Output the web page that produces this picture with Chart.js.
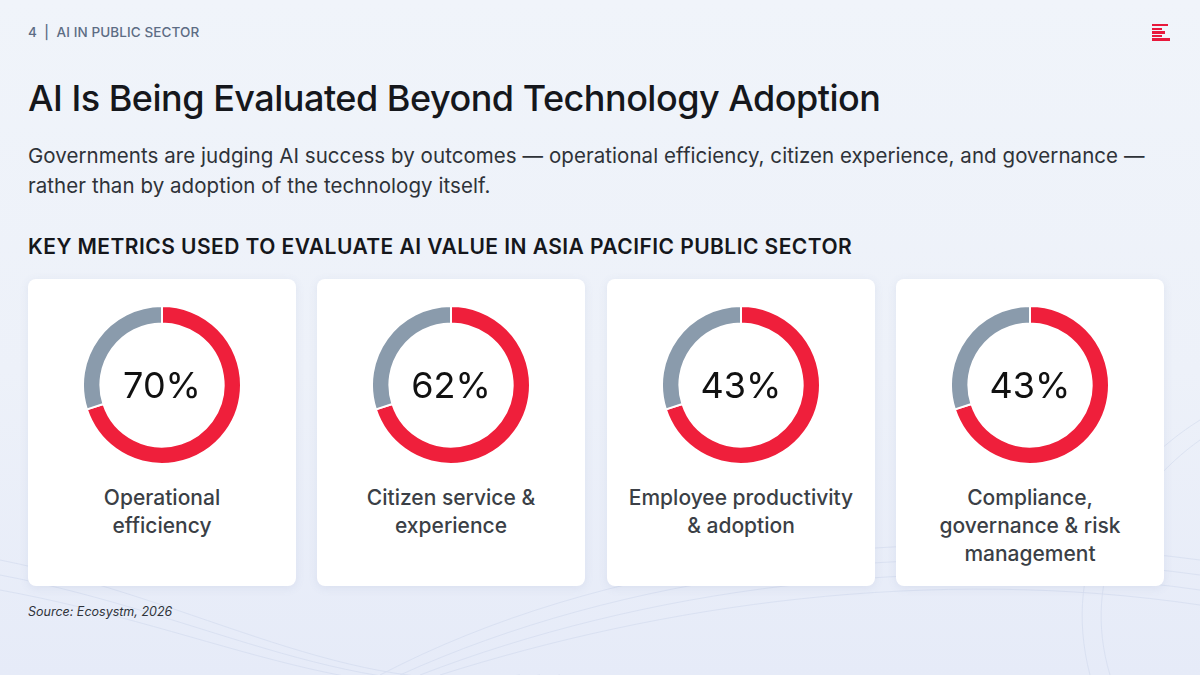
<!DOCTYPE html>
<html>
<head>
<meta charset="utf-8">
<script src="https://cdn.jsdelivr.net/npm/chart.js@4.4.1/dist/chart.umd.min.js"></script>
<style>
  html, body { margin: 0; padding: 0; }
  body {
    width: 1200px; height: 675px; overflow: hidden; position: relative;
    font-family: Inter, "Noto Sans", sans-serif;
    background: linear-gradient(180deg, #f0f4fa 0%, #edf1f9 55%, #e6ebf8 100%);
  }
  .waves { position: absolute; left: 0; top: 0; width: 1200px; height: 675px; }
  .kicker { position: absolute; left: 28px; top: 24px; font-size: 13.5px; font-weight: 500; color: #5c6c84; letter-spacing: 0.1px; }
  .logo { position: absolute; left: 1152px; top: 24px; width: 18px; }
  .logo div { height: 2.4px; background: #e8183b; margin-bottom: 1.2px; }
  h1 { position: absolute; left: 28px; top: 76px; margin: 0; font-size: 36px; font-weight: 500; letter-spacing: -0.5px; color: #15171c; }
  .sub { position: absolute; left: 28px; top: 141px; width: 1135px; font-size: 20.5px; line-height: 30px; color: #2e3238; font-weight: 400; letter-spacing: 0.06px; }
  .section { position: absolute; left: 28px; top: 234px; font-size: 21px; font-weight: 600; color: #15171c; letter-spacing: 0.45px; }
  .card {
    position: absolute; top: 279px; width: 268px; height: 307px; background: #fff;
    border-radius: 8px; box-shadow: 0 2px 10px rgba(90, 110, 160, 0.10);
  }
  .card canvas { position: absolute; left: 54px; top: 26px; }
  .label { position: absolute; left: 0; top: 205px; width: 268px; text-align: center; font-size: 21px; line-height: 28px; font-weight: 500; color: #3b3f46; letter-spacing: 0; }
  .source { position: absolute; left: 28px; top: 604px; font-size: 12.5px; font-style: italic; color: #2f333a; }
</style>
</head>
<body>
<svg class="waves" viewBox="0 0 1200 675" fill="none" stroke="#c9d3ea" stroke-width="0.8" opacity="0.55">
  <path d="M0 560 C 200 600, 350 700, 520 675"/>
  <path d="M0 575 C 210 615, 360 710, 540 675"/>
  <path d="M0 590 C 220 630, 370 720, 560 675"/>
  <path d="M380 675 C 600 560, 900 520, 1200 560"/>
  <path d="M400 675 C 620 575, 910 535, 1200 575"/>
  <path d="M420 675 C 640 590, 920 550, 1200 590"/>
  <path d="M440 675 C 660 605, 930 565, 1200 605"/>
  <path d="M1200 420 C 1120 470, 1060 560, 1090 675"/>
  <path d="M1200 440 C 1130 490, 1080 575, 1110 675"/>
</svg>

<div class="kicker">4&nbsp;&nbsp;|&nbsp;&nbsp;AI IN PUBLIC SECTOR</div>
<div class="logo"><div style="width:16px"></div><div style="width:10px"></div><div style="width:13px"></div><div style="width:10px"></div><div style="width:18px"></div></div>
<h1>AI Is Being Evaluated Beyond Technology Adoption</h1>
<div class="sub">Governments are judging AI success by outcomes — operational efficiency, citizen experience, and governance — rather than by adoption of the technology itself.</div>
<div class="section">KEY METRICS USED TO EVALUATE AI VALUE IN ASIA PACIFIC PUBLIC SECTOR</div>

<div id="cards"></div>

<div class="source">Source: Ecosystm, 2026</div>

<script>
// metric names (line breaks as in the slide)
const metrics = [
  ['Operational', 'efficiency'],
  ['Citizen service &', 'experience'],
  ['Employee productivity', '& adoption'],
  ['Compliance,', 'governance & risk', 'management']
];
// percentages printed in the ring centres
const shares = [70, 62, 43, 43];
// red part of each ring as drawn in the slide (all rings show the same split)
const ringRed = [70, 70, 70, 70];
const cardLeft = [28, 317, 607, 896];

const RED = '#ef1f3b';
const GREY = '#8a9bac';

const centerText = {
  id: 'centerText',
  afterDraw(chart, args, opts) {
    const { ctx, chartArea } = chart;
    const x = (chartArea.left + chartArea.right) / 2;
    const y = (chartArea.top + chartArea.bottom) / 2;
    ctx.save();
    ctx.font = '400 36px Inter, "Noto Sans", sans-serif';
    ctx.fillStyle = '#111';
    ctx.textAlign = 'center';
    ctx.textBaseline = 'middle';
    ctx.fillText(opts.text, x, y + 2);
    ctx.restore();
  }
};

const holder = document.getElementById('cards');
metrics.forEach(function (lines, i) {
  const card = document.createElement('div');
  card.className = 'card';
  card.style.left = cardLeft[i] + 'px';
  const cv = document.createElement('canvas');
  cv.width = 160; cv.height = 160;
  cv.style.width = '160px'; cv.style.height = '160px';
  card.appendChild(cv);
  const lab = document.createElement('div');
  lab.className = 'label';
  lab.innerHTML = lines.join('<br>');
  card.appendChild(lab);
  holder.appendChild(card);

  new Chart(cv.getContext('2d'), {
    type: 'doughnut',
    data: {
      labels: [lines.join(' '), 'Other'],
      datasets: [{
        data: [ringRed[i], 100 - ringRed[i]],
        backgroundColor: [RED, GREY],
        borderColor: '#ffffff',
        borderWidth: 2
      }]
    },
    options: {
      responsive: false,
      animation: false,
      cutout: '78%',
      layout: { padding: 0 },
      plugins: {
        legend: { display: false },
        tooltip: { enabled: false },
        centerText: { text: shares[i] + '%' }
      }
    },
    plugins: [centerText]
  });
});
</script>
</body>
</html>
